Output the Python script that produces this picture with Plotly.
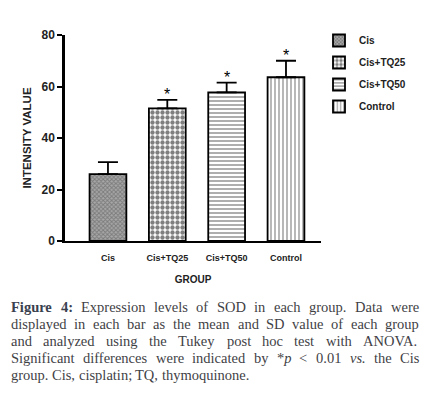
import plotly.graph_objects as go

groups = ["Cis", "Cis+TQ25", "Cis+TQ50", "Control"]
means = [26.0, 51.5, 57.7, 63.6]
sds = [4.6, 3.3, 3.8, 6.4]
significant = [False, True, True, True]
y_ticks = [0, 20, 40, 60, 80]

patterns = [
    dict(shape="x", size=3, solidity=0.55, fgcolor="#505050", bgcolor="#a8a8a8"),
    dict(shape=".", size=5, solidity=0.6, fgcolor="#000000", bgcolor="white"),
    dict(shape="-", size=4, solidity=0.4, fgcolor="#333333", bgcolor="white"),
    dict(shape="|", size=4, solidity=0.35, fgcolor="#333333", bgcolor="white"),
]

L, R, T, B = 65, 116, 35, 154
PW = 437 - L - R
PH = 395 - T - B

fig = go.Figure()
for i, g in enumerate(groups):
    fig.add_trace(go.Bar(
        x=[g], y=[means[i]], name="<b>%s</b>" % g, width=0.62,
        marker=dict(color="white", pattern=patterns[i],
                    line=dict(color="black", width=1.8)),
        error_y=dict(type="data", array=[sds[i]], arrayminus=[0], symmetric=False,
                     color="black", thickness=1.8, width=10),
        legendgroup=g,
    ))

for i, g in enumerate(groups):
    if significant[i]:
        fig.add_annotation(x=g, y=means[i] + sds[i], text="*", showarrow=False,
                           yanchor="bottom", yshift=-5,
                           font=dict(family="Arial", size=16, color="black"))

fig.update_layout(
    width=437, height=395,
    margin=dict(l=L, r=R, t=T, b=B, autoexpand=False),
    paper_bgcolor="white", plot_bgcolor="white",
    barmode="overlay",
    showlegend=True,
    legend=dict(x=1.0 - 2.0 / PW, xanchor="left", y=1.0 + 9.0 / PH, yanchor="top",
                font=dict(family="Arial", size=10, color="#222222"),
                tracegroupgap=3, bgcolor="rgba(0,0,0,0)"),
    font=dict(family="Arial", color="#222222"),
    xaxis=dict(range=[-0.724, 3.59], showline=True, linecolor="black", linewidth=2,
               ticks="", ticklabelstandoff=7,
               tickfont=dict(family="Arial", size=9, color="#222222"),
               title=dict(text="<b>GROUP</b>", font=dict(size=10, color="#222222"), standoff=14),
               showgrid=False, zeroline=False, automargin=False,
               tickvals=groups, ticktext=["<b>%s</b>" % g for g in groups]),
    yaxis=dict(range=[0, 80], tickvals=y_ticks,
               ticktext=["<b>%d</b>" % v for v in y_ticks],
               showline=True, linecolor="black", linewidth=2.5,
               ticks="outside", ticklen=5, tickwidth=2, tickcolor="black",
               tickfont=dict(family="Arial", size=12, color="#222222"),
               title=dict(text="<b>INTENSITY VALUE</b>", font=dict(size=11.5, color="#222222"), standoff=8),
               showgrid=False, zeroline=False, automargin=False),
)

# ---- caption (justified, using Times/Liberation Serif advance widths) ----
caption_lines = [
    [("Figure", "b"), ("4:", "b"), "Expression", "levels", "of", "SOD", "in", "each", "group.", "Data", "were"],
    ["displayed", "in", "each", "bar", "as", "the", "mean", "and", "SD", "value", "of", "each", "group"],
    ["and", "analyzed", "using", "the", "Tukey", "post", "hoc", "test", "with", "ANOVA."],
    ["Significant", "differences", "were", "indicated", "by", ("*p", "ip"), "&lt;", "0.01", ("vs.", "i"), "the", "Cis"],
    ["group.", "Cis,", "cisplatin;", "TQ,", "thymoquinone."],
]
justified = [True, True, True, True, False]

W_REG = dict(zip("abcdefghijklmnopqrstuvwxyz",
                 [444, 500, 444, 500, 444, 333, 500, 500, 278, 278, 500, 278, 778,
                  500, 500, 500, 500, 333, 389, 278, 500, 500, 722, 500, 500, 444]))
W_REG.update(dict(zip("ABCDEFGHIJKLMNOPQRSTUVWXYZ",
                      [722, 667, 667, 722, 611, 556, 722, 722, 333, 389, 722, 611, 889,
                       722, 722, 556, 722, 667, 556, 611, 722, 722, 944, 722, 722, 611])))
W_REG.update({d: 500 for d in "0123456789"})
W_REG.update({".": 250, ",": 250, ":": 278, ";": 278, "*": 500, "<": 564, " ": 250})
W_BOLD = dict(W_REG)
W_BOLD.update({"F": 611, "u": 556, "r": 444, ":": 333, "i": 278, "g": 500, "e": 444})
W_IT = dict(W_REG)
W_IT.update({"p": 500, "v": 444, "s": 389, ".": 250})

FS = 14.5
X0, X1 = 10, 418


def word_width(txt, style):
    t = txt.replace("&lt;", "<")
    if style == "b":
        return sum(W_BOLD.get(c, 500) for c in t) * FS / 1000
    if style == "i":
        return sum(W_IT.get(c, 500) for c in t) * FS / 1000
    if style == "ip":
        return (W_REG["*"] + W_IT["p"]) * FS / 1000
    return sum(W_REG.get(c, 500) for c in t) * FS / 1000


def word_markup(txt, style):
    if style == "b":
        return "<b>%s</b>" % txt
    if style == "i":
        return "<i>%s</i>" % txt
    if style == "ip":
        return "*<i>p</i>"
    return txt


for k, words in enumerate(caption_lines):
    py = 306.5 + 17 * k
    yp = (395 - B - py) / PH
    items = [(w, "r") if isinstance(w, str) else w for w in words]
    widths = [word_width(t, s) for t, s in items]
    if justified[k]:
        gap = (X1 - X0 - sum(widths)) / (len(items) - 1)
    else:
        gap = W_REG[" "] * FS / 1000
    x = X0
    for (t, s), w in zip(items, widths):
        color = "#39414f" if s == "b" else "#3f3f46"
        fig.add_annotation(xref="paper", yref="paper", x=(x - L) / PW, y=yp,
                           text=word_markup(t, s), showarrow=False,
                           xanchor="left", yanchor="middle", borderpad=0,
                           font=dict(family="Liberation Serif", size=FS, color=color))
        x += w + gap

fig.write_html("out.html", config={"displayModeBar": False},
               post_script="document.body.style.margin='0';")
